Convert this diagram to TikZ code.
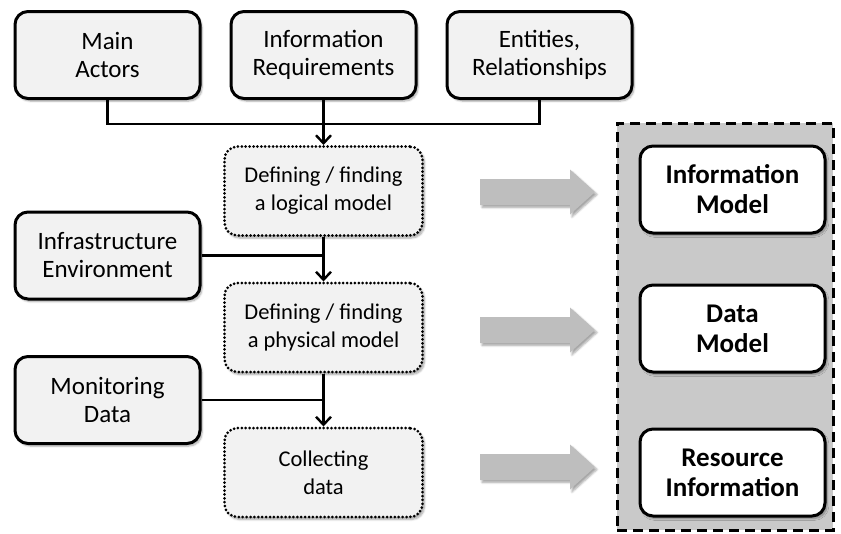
\documentclass[tikz,border=0pt]{standalone}
\usepackage{fontspec}
\setmainfont{Carlito}
\usetikzlibrary{arrows.meta,shadows.blur}
\definecolor{boxfill}{HTML}{F2F2F2}
\definecolor{panelfill}{HTML}{C9C9C9}
\definecolor{blockarrow}{HTML}{BEBEBE}
\tikzset{
  softshadow/.style={blur shadow={shadow xshift=2pt,shadow yshift=-2.5pt,shadow blur steps=6,shadow opacity=35}},
  inputbox/.style={draw=black,line width=3pt,rounded corners=13pt,fill=boxfill,softshadow,
    minimum width=185pt,minimum height=87pt,align=center,font=\fontsize{25}{28}\selectfont},
  processbox/.style={draw=black,line width=3pt,dash pattern=on 0pt off 3.9pt,line cap=round,
    rounded corners=13pt,fill=boxfill,softshadow,
    minimum width=198pt,minimum height=89pt,align=center,font=\fontsize{22.5}{28}\selectfont},
  resultbox/.style={draw=black,line width=3pt,rounded corners=13pt,fill=white,softshadow,
    minimum width=185pt,minimum height=87pt,align=center,font=\bfseries\fontsize{27}{30}\selectfont},
  link/.style={draw=black,line width=2.2pt},
  flow/.style={link,-{Straight Barb[length=8pt,width=15pt,line width=2.4pt]}},
  blockarrowstyle/.style={fill=blockarrow,draw=none,softshadow},
}
\begin{document}
\begin{tikzpicture}[x=1pt,y=-1pt]
\useasboundingbox (0,0) rectangle (841,533);

% result panel
\node[draw=black,line width=3pt,dash pattern=on 10pt off 6pt,fill=panelfill,
  minimum width=216pt,minimum height=407pt,inner sep=0pt] (panel) at (725,326.5) {};

% inputs
\node[inputbox] (actors) at (107.5,55) {Main\\Actors};
\node[inputbox] (inforeq) at (323.5,55) {Information\\Requirements};
\node[inputbox] (entities) at (539.5,55) {Entities,\\Relationships};
\node[inputbox] (infra) at (107.5,255.5) {Infrastructure\\Environment};
\node[inputbox] (monitor) at (107.5,400) {Monitoring\\Data};

% process steps
\node[processbox] (logical) at (323.5,191) {Defining / finding\\a logical model};
\node[processbox] (physical) at (323.5,327.5) {Defining / finding\\a physical model};
\node[processbox] (collect) at (323.5,472.5) {Collecting\\data};

% results
\node[resultbox] (infomodel) at (732.5,189.5) {Information\\Model};
\node[resultbox] (datamodel) at (732.5,328.5) {Data\\Model};
\node[resultbox] (resource) at (732.5,472.5) {Resource\\Information};

% connectors
\draw[link] (actors.south) -- ++(0,24) coordinate (busleft) -| (entities.south);
\draw[flow] (inforeq.south) -- (logical.north);
\draw[link] (infra.east) -- (infra.east -| logical.south);
\draw[flow] (logical.south) -- (physical.north);
\draw[link] (monitor.east) -- (monitor.east -| physical.south);
\draw[flow] (physical.south) -- (collect.north);

% block arrows towards the results
\foreach \name/\yc in {toinfo/192,todata/330,toresource/467}{
  \coordinate (\name) at (480,\yc);
  \fill[blockarrowstyle] (\name) ++(0,-13) -- ++(90,0) -- ++(0,-9.5) -- ++(25,22.5)
    -- ++(-25,22.5) -- ++(0,-9.5) -- ++(-90,0) -- cycle;
}
\end{tikzpicture}
\end{document}
